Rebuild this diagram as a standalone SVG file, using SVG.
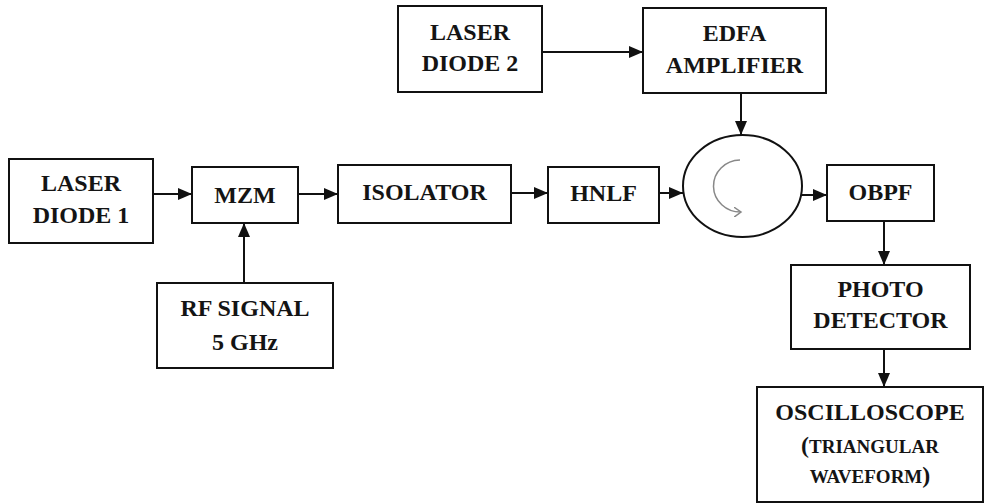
<svg xmlns="http://www.w3.org/2000/svg" width="985" height="504" viewBox="0 0 985 504">
  <style>
    .box { fill: #fff; stroke: #111; stroke-width: 2; }
    .lbl { font-family: "Liberation Serif", "Times New Roman", serif; font-weight: bold; font-size: 24px; fill: #141414; text-anchor: middle; }
    .sc { font-size: 19px; }
    .wire { stroke: #111; stroke-width: 2; fill: none; marker-end: url(#arrow); }
  </style>
  <defs>
    <marker id="arrow" markerUnits="userSpaceOnUse" markerWidth="15" markerHeight="13" refX="14" refY="6" orient="auto">
      <path d="M0,0 L14,6 L0,12 z" fill="#111"/>
    </marker>
    <marker id="spin" markerUnits="userSpaceOnUse" markerWidth="10" markerHeight="10" refX="7" refY="5" orient="auto">
      <path d="M0,0 L7,5 L0,10" fill="none" stroke="#888" stroke-width="1.5"/>
    </marker>
  </defs>
  <rect width="985" height="504" fill="#fff"/>

  <g id="connectors">
    <line class="wire" x1="153" y1="194" x2="192" y2="194"/>
    <line class="wire" x1="298" y1="194" x2="338" y2="194"/>
    <line class="wire" x1="511" y1="193" x2="548" y2="193"/>
    <line class="wire" x1="659" y1="193" x2="683" y2="193"/>
    <line class="wire" x1="542" y1="52" x2="643" y2="52"/>
    <line class="wire" x1="741" y1="94" x2="741" y2="135"/>
    <line class="wire" x1="802" y1="195" x2="827" y2="195"/>
    <line class="wire" x1="884" y1="221" x2="884" y2="265"/>
    <line class="wire" x1="884" y1="349" x2="884" y2="387"/>
    <line class="wire" x1="244" y1="283" x2="244" y2="223"/>
  </g>

  <g id="laser-diode-1">
    <rect class="box" x="9" y="159" width="144" height="84"/>
    <text class="lbl" x="81" y="191">LASER</text>
    <text class="lbl" x="81" y="223">DIODE 1</text>
  </g>

  <g id="mzm">
    <rect class="box" x="192" y="167" width="106" height="56"/>
    <text class="lbl" x="245" y="203">MZM</text>
  </g>

  <g id="isolator">
    <rect class="box" x="338" y="165" width="173" height="58"/>
    <text class="lbl" x="424.5" y="200">ISOLATOR</text>
  </g>

  <g id="hnlf">
    <rect class="box" x="548" y="167" width="111" height="56"/>
    <text class="lbl" x="603.5" y="201">HNLF</text>
  </g>

  <g id="laser-diode-2">
    <rect class="box" x="398" y="6" width="144" height="86"/>
    <text class="lbl" x="470" y="40">LASER</text>
    <text class="lbl" x="470" y="71">DIODE 2</text>
  </g>

  <g id="edfa-amplifier">
    <rect class="box" x="643" y="8" width="183" height="85"/>
    <text class="lbl" x="734.5" y="41">EDFA</text>
    <text class="lbl" x="734.5" y="73">AMPLIFIER</text>
  </g>

  <g id="circulator">
    <ellipse cx="742.5" cy="186" rx="59.5" ry="51" fill="#fff" stroke="#111" stroke-width="2"/>
    <path d="M740,160 A27,26 0 1 0 741,212" fill="none" stroke="#888" stroke-width="1.5" marker-end="url(#spin)"/>
  </g>

  <g id="obpf">
    <rect class="box" x="827" y="165" width="107" height="56"/>
    <text class="lbl" x="880.5" y="200">OBPF</text>
  </g>

  <g id="photo-detector">
    <rect class="box" x="791" y="265" width="179" height="84"/>
    <text class="lbl" x="880.5" y="297">PHOTO</text>
    <text class="lbl" x="880.5" y="328">DETECTOR</text>
  </g>

  <g id="rf-signal">
    <rect class="box" x="157" y="283" width="176" height="85"/>
    <text class="lbl" x="245" y="316">RF SIGNAL</text>
    <text class="lbl" x="245" y="350">5 GHz</text>
  </g>

  <g id="oscilloscope">
    <rect class="box" x="757" y="387" width="226" height="115"/>
    <text class="lbl" x="870" y="420">OSCILLOSCOPE</text>
    <text class="lbl" x="870" y="453">(<tspan class="sc">TRIANGULAR</tspan></text>
    <text class="lbl" x="870" y="483"><tspan class="sc">WAVEFORM</tspan>)</text>
  </g>
</svg>
